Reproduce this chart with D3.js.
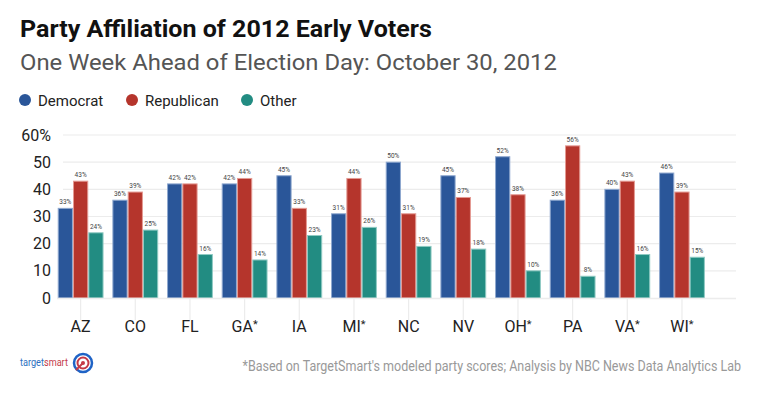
<!DOCTYPE html>
<html>
<head>
<meta charset="utf-8">
<script src="https://cdn.jsdelivr.net/npm/d3@7"></script>
<style>
  body { margin: 0; background: #fff; }
  svg { display: block; font-family: Roboto, "Noto Sans", sans-serif; }
</style>
</head>
<body>
<div id="chart"></div>
<script>
(function(){

    //chart data
    var states = ["AZ", "CO", "FL", "GA*", "IA", "MI*", "NC", "NV", "OH*", "PA", "VA*", "WI*"];
    var democrat = [33, 36, 42, 42, 45, 31, 50, 45, 52, 36, 40, 46];
    var republican = [43, 39, 42, 44, 33, 44, 31, 37, 38, 56, 43, 39];
    var other = [24, 25, 16, 14, 23, 26, 19, 18, 10, 8, 16, 15];
    var seriesNames = ["Democrat", "Republican", "Other"];
    var seriesColors = ["#2a5699", "#b5352c", "#228c82"];
    var seriesStrokes = ["#8fa8cf", "#e49a93", "#8fcac3"];
    var yTicks = [0, 10, 20, 30, 40, 50, 60];

    var width = 760, height = 399;

    var svg = d3.select("#chart").append("svg")
        .attr("width", width)
        .attr("height", height);

    //squeeze a text horizontally so it fills a given width (anchor at x)
    function fitText(sel, x, y, w, anchor){
        var natural = sel.node().getComputedTextLength();
        var k = w / natural;
        sel.attr("x", 0).attr("y", 0)
            .style("text-anchor", anchor || "start")
            .attr("transform", "translate(" + x + "," + y + ") scale(" + k + ",1)");
    }

    //title + subtitle
    var title = svg.append("text")
        .style("font-size", "24.5px")
        .style("font-weight", "bold")
        .style("fill", "#111")
        .text("Party Affiliation of 2012 Early Voters");
    fitText(title, 20, 37, 412);

    var subtitle = svg.append("text")
        .style("font-size", "22px")
        .style("fill", "#555")
        .text("One Week Ahead of Election Day: October 30, 2012");
    fitText(subtitle, 20, 70, 537);

    //legend
    var legendX = [25, 132, 247];
    var legend = svg.selectAll(".legend")
        .data(seriesNames)
        .enter().append("g")
        .attr("class", "legend")
        .attr("transform", function(d, i){ return "translate(" + legendX[i] + ",100)"; });
    legend.append("circle")
        .attr("r", 6)
        .style("fill", function(d, i){ return seriesColors[i]; });
    legend.append("text")
        .attr("x", 13).attr("y", 5.5)
        .style("font-size", "15px")
        .style("fill", "#222")
        .text(function(d){ return d; });

    //scales
    var y = d3.scaleLinear().domain([0, 60]).range([298, 135]);
    var x0 = d3.scaleBand().domain(states).range([53.3, 709.3]).paddingInner(0.18).paddingOuter(0.09);
    var x1 = d3.scaleBand().domain(d3.range(3)).range([0, x0.bandwidth()]).paddingInner(0.07);

    //gridlines
    svg.append("g").selectAll("line")
        .data(yTicks.slice(1))
        .enter().append("line")
        .attr("x1", 63).attr("x2", 736)
        .attr("y1", function(d){ return y(d); })
        .attr("y2", function(d){ return y(d); })
        .style("stroke", "#ececec")
        .style("stroke-width", 1.2);

    //category tick lines
    svg.append("g").selectAll("line")
        .data(states)
        .enter().append("line")
        .attr("x1", function(d){ return x0(d) + x0.bandwidth() / 2; })
        .attr("x2", function(d){ return x0(d) + x0.bandwidth() / 2; })
        .attr("y1", 298).attr("y2", 320)
        .style("stroke", "#ececec")
        .style("stroke-width", 1.2);

    //y axis labels
    svg.append("g").selectAll("text")
        .data(yTicks)
        .enter().append("text")
        .attr("x", 51)
        .attr("y", function(d){ return y(d) + 5.5; })
        .style("text-anchor", "end")
        .style("font-size", "16px")
        .style("fill", "#222")
        .text(function(d){ return d === 60 ? "60%" : d; });

    //bars
    var rows = states.map(function(s, i){
        return { state: s, values: [democrat[i], republican[i], other[i]] };
    });

    var groups = svg.append("g").selectAll("g")
        .data(rows)
        .enter().append("g")
        .attr("transform", function(d){ return "translate(" + x0(d.state) + ",0)"; });

    groups.selectAll("rect")
        .data(function(d){ return d.values; })
        .enter().append("rect")
        .attr("x", function(d, i){ return x1(i); })
        .attr("y", function(d){ return y(d); })
        .attr("width", x1.bandwidth())
        .attr("height", function(d){ return 298 - y(d); })
        .style("fill", function(d, i){ return seriesColors[i]; })
        .style("stroke", function(d, i){ return seriesStrokes[i]; })
        .style("stroke-width", 1);

    groups.selectAll(".val")
        .data(function(d){ return d.values; })
        .enter().append("text")
        .attr("class", "val")
        .attr("x", function(d, i){ return x1(i) + x1.bandwidth() / 2; })
        .attr("y", function(d){ return y(d) - 4; })
        .style("text-anchor", "middle")
        .style("font-size", "6.5px")
        .style("fill", "#444")
        .text(function(d){ return d + "%"; });

    //baseline
    svg.append("line")
        .attr("x1", 57).attr("x2", 736)
        .attr("y1", 298.5).attr("y2", 298.5)
        .style("stroke", "#ececec")
        .style("stroke-width", 1.5);

    //x labels, asterisk set small and raised
    var xLabels = svg.append("g").selectAll("text")
        .data(states)
        .enter().append("text")
        .attr("x", function(d){ return x0(d) + x0.bandwidth() / 2; })
        .attr("y", 332)
        .style("text-anchor", "middle")
        .style("font-size", "16px")
        .style("fill", "#222");
    xLabels.append("tspan").text(function(d){ return d.replace("*", ""); });
    xLabels.filter(function(d){ return d.indexOf("*") > -1; })
        .append("tspan")
        .attr("dy", -4)
        .style("font-size", "11px")
        .text("*");

    //footer note
    var note = svg.append("text")
        .style("font-size", "15px")
        .style("fill", "#999")
        .text("*Based on TargetSmart's modeled party scores; Analysis by NBC News Data Analytics Lab");
    fitText(note, 741, 371, 499, "end");

    //targetsmart logo
    var logo = svg.append("text")
        .style("font-size", "10.5px");
    logo.append("tspan").style("fill", "#2b6fc0").text("target");
    logo.append("tspan").style("fill", "#c43a48").text("smart");
    fitText(logo, 20, 366, 48);

    var icon = svg.append("g").attr("transform", "translate(83,363)");
    icon.append("circle").attr("r", 9).style("fill", "none").style("stroke", "#1f63c6").style("stroke-width", 2.5);
    icon.append("circle").attr("r", 5.5).style("fill", "none").style("stroke", "#c43a48").style("stroke-width", 2);
    icon.append("circle").attr("r", 2).style("fill", "#c43a48");
    icon.append("line").attr("x1", 0).attr("y1", 0).attr("x2", -7).attr("y2", 7)
        .style("stroke", "#c43a48").style("stroke-width", 2);

})();
</script>
</body>
</html>
